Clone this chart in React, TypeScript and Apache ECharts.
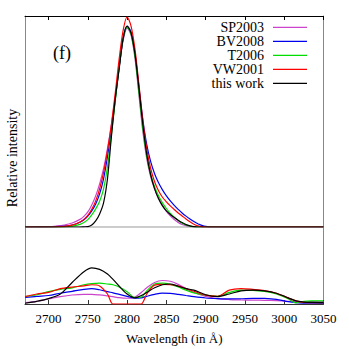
import React, { useEffect, useRef } from "react";
import * as echarts from "echarts";

const SERIES_NAMES = ["SP2003", "BV2008", "T2006", "VW2001", "this work"];
const SERIES_COLORS = ["#cc44cc", "#0000ee", "#00dd00", "#ff0000", "#000000"];
const X_TICKS = [2700, 2750, 2800, 2850, 2900, 2950, 3000, 3050];

// Top panel: line profiles (relative intensity)
const PROFILE_X = [2670, 2700, 2710, 2720, 2730, 2740, 2745, 2750, 2755, 2760, 2765, 2770, 2775, 2780, 2785, 2790, 2795, 2800, 2805, 2810, 2815, 2820, 2825, 2830, 2835, 2840, 2845, 2850, 2855, 2860, 2865, 2870, 2875, 2880, 2885, 2890, 2895, 2900, 2910, 2920, 2950, 3000, 3050];
const PROFILE_SP2003 = [0, 0.002, 0.005, 0.01, 0.02, 0.038, 0.053, 0.075, 0.11, 0.155, 0.215, 0.29, 0.39, 0.51, 0.65, 0.8, 0.93, 0.99, 0.955, 0.84, 0.66, 0.475, 0.34, 0.25, 0.19, 0.145, 0.108, 0.078, 0.055, 0.037, 0.023, 0.013, 0.007, 0.003, 0.001, 0, 0, 0, 0, 0, 0, 0, 0];
const PROFILE_BV2008 = [0, 0.001, 0.002, 0.004, 0.01, 0.024, 0.036, 0.054, 0.08, 0.115, 0.165, 0.24, 0.35, 0.48, 0.64, 0.8, 0.94, 1.0, 0.97, 0.865, 0.7, 0.535, 0.41, 0.325, 0.265, 0.22, 0.185, 0.155, 0.13, 0.108, 0.088, 0.07, 0.054, 0.04, 0.027, 0.016, 0.008, 0.003, 0, 0, 0, 0, 0];
const PROFILE_T2006 = [0, 0, 0, 0.001, 0.004, 0.013, 0.022, 0.037, 0.06, 0.09, 0.128, 0.19, 0.3, 0.46, 0.63, 0.8, 0.94, 0.995, 0.96, 0.85, 0.67, 0.49, 0.35, 0.26, 0.2, 0.155, 0.12, 0.092, 0.068, 0.049, 0.032, 0.019, 0.01, 0.004, 0.001, 0, 0, 0, 0, 0, 0, 0, 0];
const PROFILE_VW2001 = [0, 0, 0.001, 0.003, 0.009, 0.025, 0.038, 0.058, 0.088, 0.13, 0.19, 0.27, 0.38, 0.51, 0.67, 0.84, 0.98, 1.045, 1.0, 0.885, 0.71, 0.53, 0.39, 0.29, 0.225, 0.18, 0.148, 0.125, 0.105, 0.087, 0.07, 0.055, 0.04, 0.026, 0.014, 0.006, 0.002, 0, 0, 0, 0, 0, 0];
const PROFILE_THIS_WORK = [0, 0, 0, 0, 0, 0, 0.001, 0.002, 0.01, 0.03, 0.065, 0.12, 0.24, 0.45, 0.64, 0.79, 0.94, 1.0, 0.965, 0.86, 0.69, 0.51, 0.36, 0.26, 0.19, 0.14, 0.105, 0.08, 0.062, 0.047, 0.034, 0.022, 0.012, 0.006, 0.002, 0, 0, 0, 0, 0, 0, 0, 0];

// Bottom panel: residual-like curves
const RESID_X = [2670, 2685, 2700, 2715, 2730, 2745, 2755, 2765, 2775, 2782, 2790, 2800, 2810, 2818, 2825, 2835, 2845, 2855, 2865, 2875, 2885, 2900, 2915, 2930, 2945, 2960, 2975, 2990, 3005, 3015, 3025, 3035, 3050];
const RESID_SP2003 = [0.017, 0.035, 0.065, 0.095, 0.117, 0.126, 0.126, 0.118, 0.105, 0.095, 0.082, 0.075, 0.09, 0.15, 0.21, 0.28, 0.305, 0.295, 0.255, 0.2, 0.15, 0.1, 0.07, 0.058, 0.053, 0.05, 0.048, 0.043, 0.035, 0.03, 0.03, 0.03, 0.03];
const RESID_BV2008 = [0.085, 0.1, 0.11, 0.14, 0.165, 0.19, 0.2, 0.185, 0.16, 0.145, 0.125, 0.1, 0.075, 0.08, 0.1, 0.125, 0.14, 0.138, 0.125, 0.11, 0.095, 0.078, 0.07, 0.066, 0.068, 0.074, 0.072, 0.06, 0.03, 0.017, 0.012, 0.01, 0.01];
const RESID_T2006 = [0.095, 0.12, 0.16, 0.19, 0.21, 0.25, 0.265, 0.27, 0.26, 0.25, 0.22, 0.16, 0.085, 0.09, 0.17, 0.26, 0.27, 0.255, 0.22, 0.18, 0.145, 0.115, 0.1, 0.15, 0.18, 0.175, 0.165, 0.13, 0.07, 0.015, 0.035, 0.04, 0.04];
const RESID_VW2001 = [0.095, 0.13, 0.15, 0.2, 0.22, 0.235, 0.25, 0.235, 0.13, 0, 0, 0, 0, 0, 0.13, 0.245, 0.255, 0.25, 0.235, 0.2, 0.165, 0.115, 0.1, 0.18, 0.2, 0.19, 0.175, 0.14, 0.08, 0.04, 0.02, 0.017, 0.017];
const RESID_THIS_WORK = [0.01, 0.035, 0.07, 0.13, 0.28, 0.42, 0.47, 0.45, 0.39, 0.32, 0.23, 0.13, 0.08, 0.11, 0.15, 0.21, 0.25, 0.26, 0.23, 0.2, 0.18, 0.12, 0.095, 0.13, 0.17, 0.18, 0.17, 0.14, 0.08, 0.04, 0.025, 0.02, 0.017];

const PROFILES = [PROFILE_SP2003, PROFILE_BV2008, PROFILE_T2006, PROFILE_VW2001, PROFILE_THIS_WORK];
const RESIDUALS = [RESID_SP2003, RESID_BV2008, RESID_T2006, RESID_VW2001, RESID_THIS_WORK];

const FONT_FAMILY = "Liberation Serif";

export default function App() {
  const ref = useRef<HTMLDivElement>(null);
  useEffect(() => {
    if (!ref.current) return;
    const chart = echarts.init(ref.current, undefined, { renderer: "svg" });
    const hiddenY = {
      type: "value",
      axisLine: { show: true, onZero: false, lineStyle: { color: "#888", width: 1 } },
      axisTick: { show: false },
      axisLabel: { show: false },
      splitLine: { show: false },
    };
    const topSeries = PROFILES.map((arr, k) => ({
      type: "line",
      name: SERIES_NAMES[k],
      xAxisIndex: 0,
      yAxisIndex: 0,
      data: PROFILE_X.map((x, i) => [x, arr[i]]),
      showSymbol: false,
      smooth: 0.3,
      clip: true,
      lineStyle: { color: SERIES_COLORS[k], width: 1.2 },
      z: 3 + k,
      ...(k === 0
        ? {
            markLine: {
              silent: true,
              symbol: ["none", "none"],
              label: { show: false },
              lineStyle: { color: "#bbbbbb", type: "solid", width: 1.5 },
              data: [{ yAxis: 0 }],
              z: 1,
            },
          }
        : {}),
    }));
    const bottomSeries = RESIDUALS.map((arr, k) => ({
      type: "line",
      name: SERIES_NAMES[k] + " (residual)",
      xAxisIndex: 1,
      yAxisIndex: 2,
      data: RESID_X.map((x, i) => [x, arr[i]]),
      showSymbol: false,
      smooth: 0.3,
      clip: true,
      lineStyle: { color: SERIES_COLORS[k], width: 1.2 },
      z: 3 + k,
    }));
    const legendItems: any[] = [];
    SERIES_NAMES.forEach((n, i) => {
      const y = 27.3 + i * 14;
      legendItems.push({
        type: "text",
        x: 264,
        y,
        style: {
          text: n,
          fontSize: 14,
          fontFamily: FONT_FAMILY,
          fill: "#000",
          textAlign: "right",
          textVerticalAlign: "middle",
          align: "right",
          verticalAlign: "middle",
        },
      });
      legendItems.push({
        type: "line",
        shape: { x1: 273, y1: y, x2: 307, y2: y },
        style: { stroke: SERIES_COLORS[i], lineWidth: 1.2 },
      });
    });
    chart.setOption({
      animation: false,
      backgroundColor: "#ffffff",
      textStyle: { fontFamily: FONT_FAMILY },
      grid: [
        { left: 25, right: 25.5, top: 16, height: 211 },
        { left: 25, right: 25.5, top: 227, height: 77 },
      ],
      xAxis: [
        {
          type: "value",
          gridIndex: 0,
          position: "top",
          min: 2670,
          max: 3050,
          axisLine: { show: true, onZero: false, lineStyle: { color: "#000", width: 1 } },
          axisTick: { show: true, inside: true, length: 4, customValues: X_TICKS, lineStyle: { color: "#000" } },
          axisLabel: { show: false },
          splitLine: { show: false },
        },
        {
          type: "value",
          gridIndex: 1,
          position: "bottom",
          min: 2670,
          max: 3050,
          axisLine: { show: true, onZero: false, lineStyle: { color: "#333", width: 1 } },
          axisTick: { show: true, inside: true, length: 4, customValues: X_TICKS, lineStyle: { color: "#333" } },
          axisLabel: {
            show: true,
            customValues: X_TICKS,
            formatter: (v: number) => String(v),
            color: "#000",
            fontSize: 13,
            margin: 8,
            fontFamily: FONT_FAMILY,
          },
          splitLine: { show: false },
          name: "Wavelength (in Å)",
          nameLocation: "middle",
          nameGap: 28,
          nameTextStyle: { color: "#000", fontSize: 13, fontFamily: FONT_FAMILY },
        },
      ],
      yAxis: [
        { ...hiddenY, gridIndex: 0, min: 0, max: 1.05, position: "left" },
        { ...hiddenY, gridIndex: 0, min: 0, max: 1.05, position: "right" },
        { ...hiddenY, gridIndex: 1, min: 0, max: 1, position: "left" },
        { ...hiddenY, gridIndex: 1, min: 0, max: 1, position: "right" },
      ],
      graphic: [
        ...legendItems,
        {
          type: "text",
          x: 62,
          y: 53,
          style: {
            text: "(f)",
            fontSize: 18,
            fontFamily: FONT_FAMILY,
            fill: "#000",
            textAlign: "center",
            textVerticalAlign: "middle",
            align: "center",
            verticalAlign: "middle",
          },
        },
        {
          type: "text",
          x: 12,
          y: 158,
          rotation: Math.PI / 2,
          style: {
            text: "Relative intensity",
            fontSize: 14,
            fontFamily: FONT_FAMILY,
            fill: "#000",
            textAlign: "center",
            textVerticalAlign: "middle",
            align: "center",
            verticalAlign: "middle",
          },
        },
      ],
      series: [...topSeries, ...bottomSeries],
    });
    return () => chart.dispose();
  }, []);
  return (
    <div
      ref={ref}
      style={{ position: "fixed", left: 0, top: 0, width: 349, height: 349, background: "#fff" }}
    />
  );
}
